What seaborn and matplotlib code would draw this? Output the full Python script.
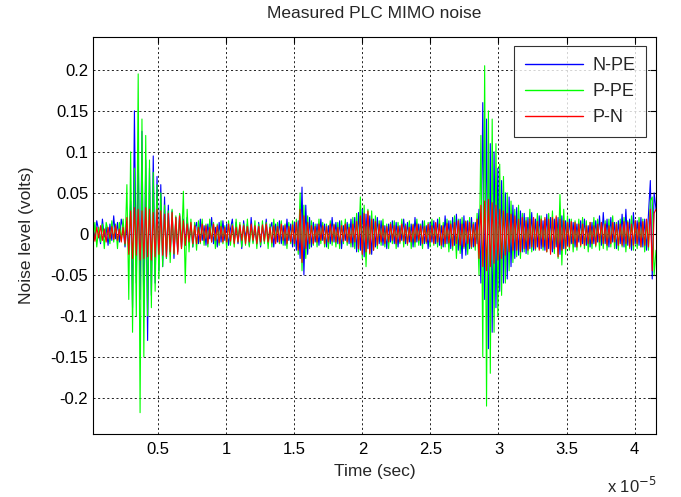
import numpy as np
import pandas as pd
import matplotlib
matplotlib.use("Agg")
import matplotlib.pyplot as plt
import seaborn as sns

# ---- data (volts) ----
n_pe = [
    0.010,-0.006,0.016,0.004,-0.012,0.018,-0.004,0.008,-0.014,0.012,
    -0.008,0.022,-0.006,0.014,-0.010,0.018,0.006,-0.016,0.010,-0.020,
    0.040,-0.090,0.150,-0.060,0.100,-0.080,0.125,-0.100,0.090,-0.130,
    0.080,-0.075,0.095,-0.060,0.070,-0.045,0.060,-0.040,0.045,-0.030,
    0.035,-0.025,0.028,-0.030,0.020,-0.022,0.024,-0.016,0.018,-0.014,
    0.020,-0.010,0.012,-0.016,0.006,0.014,-0.012,0.018,-0.008,0.010,
    -0.014,0.012,-0.006,0.020,-0.012,0.008,-0.016,0.014,-0.010,0.016,
    -0.008,0.012,-0.014,0.006,0.018,-0.010,0.014,-0.012,0.010,-0.018,
    0.016,-0.006,0.012,-0.014,0.020,-0.010,0.008,-0.012,0.014,-0.016,
    0.010,-0.008,0.018,-0.012,0.006,0.014,-0.016,0.012,-0.010,0.016,
    -0.012,0.010,-0.014,0.018,-0.008,0.012,-0.016,0.014,-0.020,0.016,
    -0.030,0.057,-0.050,0.035,-0.025,0.020,-0.016,0.014,-0.010,0.012,
    -0.014,0.018,-0.008,0.012,-0.016,0.010,-0.012,0.020,-0.010,0.014,
    -0.012,0.016,-0.018,0.010,-0.008,0.014,-0.012,0.018,-0.016,0.020,
    -0.022,0.026,-0.020,0.030,-0.028,0.024,-0.018,0.022,-0.025,0.018,
    -0.016,0.020,-0.012,0.016,-0.014,0.010,-0.018,0.012,-0.010,0.016,
    -0.012,0.014,-0.016,0.010,-0.008,0.018,-0.012,0.014,-0.010,0.012,
    -0.016,0.020,-0.010,0.012,-0.014,0.016,-0.012,0.010,-0.018,0.014,
    -0.010,0.016,-0.012,0.018,-0.014,0.010,-0.016,0.022,-0.012,0.016,
    -0.018,0.020,-0.014,0.024,-0.020,0.018,-0.030,0.022,-0.026,0.016,
    -0.018,0.020,-0.016,0.014,-0.012,0.030,-0.060,0.160,-0.080,0.140,
    -0.140,0.110,-0.120,0.100,-0.090,0.080,-0.070,0.065,-0.060,0.050,
    -0.055,0.045,-0.040,0.035,-0.030,0.032,-0.026,0.028,-0.022,0.025,
    -0.024,0.020,-0.018,0.026,-0.020,0.018,-0.016,0.022,-0.018,0.016,
    -0.020,0.024,-0.018,0.020,-0.022,0.018,-0.016,0.020,-0.025,0.022,
    -0.018,0.016,-0.014,0.018,-0.012,0.014,-0.016,0.012,-0.010,0.016,
    -0.012,0.018,-0.014,0.010,-0.016,0.014,-0.012,0.016,-0.010,0.022,
    -0.014,0.026,-0.012,0.018,-0.016,0.020,-0.010,0.014,-0.018,0.016,
    -0.012,0.024,-0.016,0.030,-0.014,0.018,-0.020,0.026,-0.012,0.016,
    -0.014,0.020,-0.016,0.018,-0.020,0.024,0.065,-0.055,0.050,0.030,
]
p_pe = [
    -0.012,0.014,-0.016,0.008,-0.010,0.012,-0.018,0.014,0.004,-0.012,
    0.016,-0.010,0.012,-0.018,0.014,-0.008,0.018,-0.014,0.060,-0.080,
    0.100,-0.120,0.080,-0.100,0.195,-0.218,0.140,-0.150,0.120,-0.100,
    0.090,-0.090,0.075,-0.070,0.060,-0.055,0.050,-0.040,0.035,-0.030,
    0.028,-0.035,0.030,-0.025,0.022,-0.020,0.025,-0.018,0.052,-0.060,
    0.030,-0.022,0.018,-0.016,0.014,-0.020,0.016,-0.012,0.018,-0.014,
    0.012,-0.016,0.018,-0.010,0.014,-0.018,0.012,-0.014,0.016,-0.012,
    0.010,-0.018,0.016,-0.014,0.012,-0.016,0.018,-0.010,0.014,-0.016,
    0.012,-0.014,0.018,-0.016,0.010,-0.012,0.016,-0.018,0.012,-0.014,
    0.016,-0.012,0.014,-0.018,0.012,-0.016,0.018,-0.010,0.014,-0.012,
    0.016,-0.014,0.012,-0.018,0.014,-0.012,0.016,-0.014,0.018,-0.025,
    0.050,-0.045,0.035,-0.030,0.022,-0.018,0.016,-0.014,0.012,-0.016,
    0.018,-0.012,0.014,-0.016,0.012,-0.018,0.016,-0.014,0.012,-0.016,
    0.014,-0.018,0.016,-0.012,0.018,-0.014,0.012,-0.016,0.020,-0.018,
    0.025,-0.022,0.045,-0.030,0.035,-0.040,0.030,-0.025,0.028,-0.020,
    0.022,-0.018,0.016,-0.014,0.018,-0.016,0.012,-0.018,0.014,-0.012,
    0.016,-0.018,0.014,-0.012,0.018,-0.016,0.012,-0.014,0.016,-0.018,
    0.012,-0.016,0.018,-0.014,0.012,-0.018,0.016,-0.012,0.014,-0.016,
    0.018,-0.014,0.012,-0.016,0.020,-0.018,0.014,-0.016,0.018,-0.022,
    0.016,-0.020,0.022,-0.030,0.018,-0.024,0.020,-0.018,0.016,-0.025,
    0.020,-0.018,0.014,-0.020,0.025,-0.050,0.120,-0.150,0.205,-0.210,
    0.150,-0.170,0.140,-0.120,0.110,-0.100,0.085,-0.075,0.070,-0.060,
    0.050,-0.045,0.040,-0.035,0.030,-0.028,0.035,-0.030,0.025,-0.022,
    0.020,-0.025,0.030,-0.022,0.018,-0.020,0.025,-0.018,0.022,-0.020,
    0.018,-0.022,0.025,-0.020,0.028,-0.024,0.020,-0.030,0.048,-0.038,
    0.030,-0.025,0.022,-0.020,0.018,-0.022,0.016,-0.020,0.018,-0.016,
    0.020,-0.018,0.016,-0.022,0.014,-0.018,0.020,-0.016,0.018,-0.020,
    0.014,-0.018,0.016,-0.020,0.018,-0.016,0.022,-0.018,0.014,-0.020,
    0.018,-0.016,0.020,-0.022,0.016,-0.018,0.022,-0.020,0.016,-0.018,
    0.020,-0.016,0.018,-0.022,0.016,-0.020,0.040,0.045,-0.050,-0.020,
]
p_n = [
    0.006,-0.009,0.008,-0.005,0.010,-0.008,0.006,-0.010,0.008,-0.006,
    0.009,-0.007,0.010,-0.008,0.006,-0.010,0.008,-0.012,0.020,-0.025,
    0.028,-0.030,0.032,-0.026,0.030,-0.032,0.028,-0.030,0.032,-0.028,
    0.030,-0.032,0.026,-0.028,0.030,-0.025,0.028,-0.026,0.024,-0.028,
    0.025,-0.022,0.026,-0.024,0.020,-0.025,0.022,-0.018,0.016,-0.014,
    0.012,-0.010,0.014,-0.012,0.010,-0.012,0.008,-0.010,0.012,-0.008,
    0.010,-0.012,0.008,-0.010,0.012,-0.008,0.010,-0.011,0.009,-0.010,
    0.008,-0.010,0.012,-0.009,0.010,-0.012,0.008,-0.010,0.011,-0.008,
    0.010,-0.012,0.009,-0.010,0.012,-0.008,0.010,-0.012,0.009,-0.010,
    0.011,-0.009,0.012,-0.010,0.008,-0.011,0.010,-0.012,0.009,-0.010,
    0.012,-0.008,0.010,-0.012,0.009,-0.010,0.011,-0.012,0.014,-0.020,
    0.030,-0.035,0.022,-0.018,0.014,-0.012,0.010,-0.012,0.009,-0.010,
    0.012,-0.008,0.010,-0.012,0.009,-0.010,0.012,-0.009,0.011,-0.010,
    0.008,-0.012,0.010,-0.009,0.012,-0.010,0.008,-0.011,0.012,-0.010,
    0.015,-0.018,0.022,-0.025,0.025,-0.022,0.028,-0.024,0.018,-0.020,
    0.015,-0.014,0.012,-0.010,0.010,-0.012,0.009,-0.010,0.012,-0.008,
    0.010,-0.012,0.009,-0.010,0.012,-0.009,0.010,-0.012,0.008,-0.010,
    0.011,-0.010,0.012,-0.008,0.010,-0.012,0.009,-0.010,0.012,-0.010,
    0.010,-0.012,0.014,-0.010,0.012,-0.014,0.010,-0.012,0.013,-0.011,
    0.012,-0.015,0.014,-0.012,0.016,-0.014,0.012,-0.016,0.015,-0.012,
    0.014,-0.016,0.012,-0.015,0.018,-0.030,0.035,-0.040,0.040,-0.045,
    0.042,-0.040,0.038,-0.036,0.035,-0.032,0.030,-0.030,0.028,-0.026,
    0.025,-0.022,0.024,-0.020,0.022,-0.020,0.018,-0.022,0.020,-0.018,
    0.016,-0.020,0.018,-0.016,0.020,-0.018,0.015,-0.020,0.018,-0.016,
    0.020,-0.022,0.018,-0.025,0.020,-0.018,0.022,-0.028,0.018,-0.020,
    0.016,-0.018,0.014,-0.016,0.015,-0.012,0.014,-0.016,0.012,-0.014,
    0.012,-0.014,0.010,-0.012,0.014,-0.012,0.010,-0.014,0.012,-0.010,
    0.014,-0.012,0.012,-0.014,0.010,-0.012,0.014,-0.010,0.012,-0.014,
    0.012,-0.014,0.015,-0.012,0.014,-0.016,0.012,-0.014,0.016,-0.012,
    0.014,-0.016,0.015,-0.014,0.018,-0.016,0.030,-0.045,0.025,0.030,
]
series_names = ["N-PE", "P-PE", "P-N"]
t_start, t_end = 0.022e-5, 4.157e-5
xtick_vals = [0.5e-5, 1e-5, 1.5e-5, 2e-5, 2.5e-5, 3e-5, 3.5e-5, 4e-5]
xtick_labels = ["0.5", "1", "1.5", "2", "2.5", "3", "3.5", "4"]
ytick_vals = [-0.2, -0.15, -0.1, -0.05, 0, 0.05, 0.1, 0.15, 0.2]
ytick_labels = ["-0.2", "-0.15", "-0.1", "-0.05", "0", "0.05", "0.1", "0.15", "0.2"]

time = np.linspace(t_start, t_end, len(n_pe))
df = pd.concat([
    pd.DataFrame({"t": time, "v": vals, "s": name})
    for name, vals in zip(series_names, [n_pe, p_pe, p_n])
], ignore_index=True)

sns.set_theme(style="white")
plt.rcParams["font.family"] = ["Liberation Sans", "DejaVu Sans"]

fig = plt.figure(figsize=(6.81, 4.97), dpi=100)
ax = fig.add_axes([93/681, 1-434/497, (656-93)/681, (434-37)/497])

palette = {"N-PE": "#0000ff", "P-PE": "#00ff00", "P-N": "#ff0000"}
sns.lineplot(data=df, x="t", y="v", hue="s", palette=palette, estimator=None,
             sort=False, linewidth=0.8, ax=ax, legend=True)

ax.set_xlim(t_start, t_end)
ax.set_ylim(-0.244, 0.240)
ax.set_xticks(xtick_vals)
ax.set_xticklabels(xtick_labels)
ax.set_yticks(ytick_vals)
ax.set_yticklabels(ytick_labels)
ax.tick_params(direction="in", length=4, width=0.8, top=True, right=True,
               labelsize=12, colors="black")
ax.tick_params(axis="x", pad=5.5)
ax.tick_params(axis="y", pad=3.5)
for sp in ax.spines.values():
    sp.set_color("black")
    sp.set_linewidth(0.8)
ax.grid(True, color="black", linestyle=(0, (2.5, 3)), linewidth=0.6)
ax.set_axisbelow(True)

ax.set_title("Measured PLC MIMO noise", fontsize=12.5, pad=14)
ax.set_xlabel("Time (sec)", fontsize=12.5, labelpad=5)
ax.set_ylabel("Noise level (volts)", fontsize=12.5, labelpad=12)
fig.text(607/681, 1-486/497, r"x 10$^{-5}$", fontsize=12, ha="left", va="center")

leg = ax.legend(loc="upper right", frameon=True, fancybox=False, fontsize=13,
                handlelength=3.2, handletextpad=0.5, borderpad=0.6,
                labelspacing=0.5, borderaxespad=0,
                bbox_to_anchor=(0.982, 0.977))
leg.get_frame().set_edgecolor("black")
leg.get_frame().set_linewidth(0.8)
for h in leg.get_lines():
    h.set_linewidth(1.0)
leg.set_title(None)

fig.savefig("out.png", dpi=100, facecolor="white")
